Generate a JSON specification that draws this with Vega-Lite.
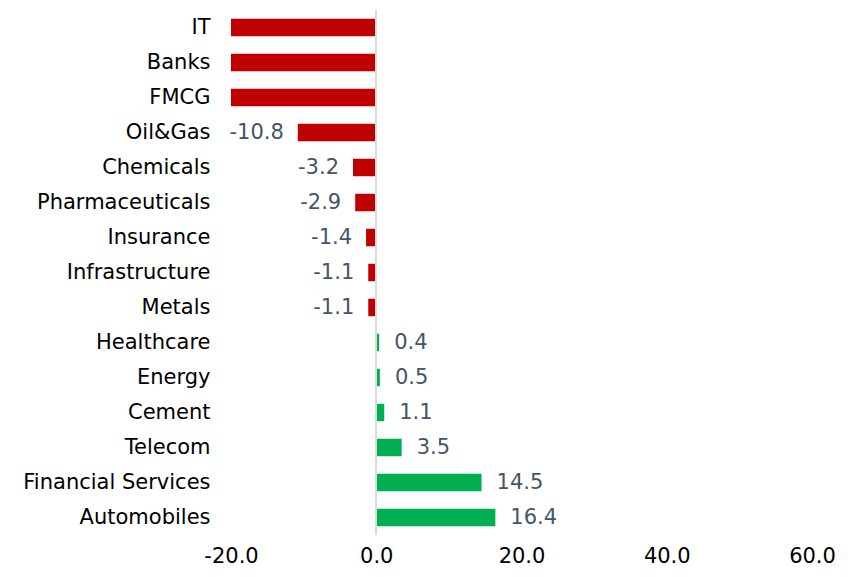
{
  "$schema": "https://vega.github.io/schema/vega-lite/v6.json",
  "width": 581,
  "height": 525,
  "autosize": "none",
  "padding": {"left": 231, "top": 10, "right": 40, "bottom": 42},
  "background": "white",
  "config": {
    "view": {"stroke": null},
    "font": "DejaVu Sans",
    "locale": {"number": {"decimal": ".", "thousands": ",", "grouping": [3], "currency": ["$", ""], "minus": "-"}}
  },
  "data": {"values": [
    {"sector": "IT", "value": -30.0},
    {"sector": "Banks", "value": -26.0},
    {"sector": "FMCG", "value": -23.0},
    {"sector": "Oil&Gas", "value": -10.8},
    {"sector": "Chemicals", "value": -3.2},
    {"sector": "Pharmaceuticals", "value": -2.9},
    {"sector": "Insurance", "value": -1.4},
    {"sector": "Infrastructure", "value": -1.1},
    {"sector": "Metals", "value": -1.1},
    {"sector": "Healthcare", "value": 0.4},
    {"sector": "Energy", "value": 0.5},
    {"sector": "Cement", "value": 1.1},
    {"sector": "Telecom", "value": 3.5},
    {"sector": "Financial Services", "value": 14.5},
    {"sector": "Automobiles", "value": 16.4}
  ]},
  "encoding": {
    "y": {"field": "sector", "type": "nominal", "sort": null,
      "scale": {"paddingInner": 0.5, "paddingOuter": 0.25},
      "axis": {"title": null, "domain": false, "ticks": false, "labelFontSize": 21, "labelColor": "#000000", "labelPadding": 21, "labelLimit": 400, "labelFont": "DejaVu Sans"}}
  },
  "layer": [
    {
      "mark": {"type": "bar"},
      "encoding": {
        "x": {"field": "value", "type": "quantitative",
          "scale": {"domain": [-20, 60], "clamp": true, "nice": false},
          "axis": {"title": null, "values": [-20, 0, 20, 40, 60], "format": ".1f", "grid": false, "domain": false, "ticks": false, "labelFontSize": 21, "labelColor": "#000000", "labelPadding": 10, "labelFlush": false, "labelFont": "DejaVu Sans"}},
        "color": {"condition": {"test": "datum.value < 0", "value": "#C00000"}, "value": "#00B050"}
      }
    },
    {
      "mark": {"type": "rule", "color": "#D9D9D9", "strokeWidth": 1.5},
      "encoding": {"x": {"datum": 0, "type": "quantitative"}, "y": {"value": 0}, "y2": {"value": 525}}
    },
    {
      "transform": [{"filter": "datum.value < 0 && datum.value >= -20"}],
      "mark": {"type": "text", "align": "right", "dx": -14, "fontSize": 21, "color": "#44546A"},
      "encoding": {
        "x": {"field": "value", "type": "quantitative"},
        "text": {"field": "value", "type": "quantitative", "format": ".1f"}
      }
    },
    {
      "transform": [{"filter": "datum.value >= 0"}],
      "mark": {"type": "text", "align": "left", "dx": 15, "fontSize": 21, "color": "#44546A"},
      "encoding": {
        "x": {"field": "value", "type": "quantitative"},
        "text": {"field": "value", "type": "quantitative", "format": ".1f"}
      }
    }
  ]
}
